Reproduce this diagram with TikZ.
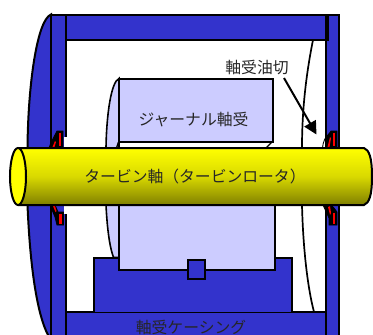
\documentclass[tikz,border=0pt]{standalone}
\usepackage{fontspec}
\newfontfamily\jpfont{Noto Sans CJK JP}
\usetikzlibrary{arrows.meta}
\definecolor{casing}{HTML}{3333CC}
\definecolor{bearing}{HTML}{CCCCFF}
\definecolor{shafttop}{HTML}{FFFF00}
\definecolor{shaftbot}{HTML}{7F7F00}
\tikzset{
  part/.style={draw=black,line width=2pt,line join=miter},
  blue part/.style={part,fill=casing},
  pale part/.style={part,fill=bearing},
  thin line/.style={draw=black,line width=1.7pt},
  seal/.style={fill=black,draw=black,line width=.8pt},
  sealred/.style={fill=red,draw=none},
  lab/.style={font=\jpfont\fontsize{15.8pt}{16pt}\selectfont,inner sep=0pt,text=black!85}
}
\begin{document}
\begin{tikzpicture}[x=1pt,y=-1pt]
\useasboundingbox (0,0) rectangle (373,335);
\fill[white] (0,0) rectangle (373,335);
% left bulge of the casing
\draw[blue part] (51,14.5) .. controls (37,20) and (28,85) .. (27.5,148) -- (27.5,205)
   .. controls (30,265) and (37,320) .. (51,340) -- cycle;
% left flange
\draw[blue part] (51,14.5) rectangle (65.5,340);
% top and bottom bars
\draw[blue part] (65.5,14.5) -- (328,14.5) -- (328,40) -- (65.5,40) -- cycle;
\draw[blue part] (65.5,312) -- (327,312) -- (327,340) -- (65.5,340) -- cycle;
% right flange
\draw[blue part] (328,14.5) -- (338.5,14.5) -- (338.5,340) -- (326,340) -- (326,40) -- (328,40) -- cycle;
\draw[part] (326,14.5) -- (326,40);
% oil thrower arc
\draw[thin line] (313,40) .. controls (306,75) and (302,110) .. (302,148);
\draw[thin line] (302,205) .. controls (303,245) and (307,285) .. (314,312);
% casing base
\draw[blue part] (93.5,312) -- (93.5,257.5) -- (292,257.5) -- (292,312);
% journal bearing, bulges
\draw[pale part,line width=1.6pt] (119,78.5) .. controls (111,82) and (106.5,115) .. (106,148) -- (106,205)
   .. controls (107,225) and (109,245) .. (113.5,257.5) -- (119,257.5) -- cycle;
% journal bearing, upper block
\draw[pale part] (119,78.5) rectangle (272.5,142);
\draw[part,fill=white,line width=1.4pt] (118.5,142) -- (116.5,148) (272,142) -- (266,148);
% journal bearing, lower block
\draw[pale part] (119,206) -- (119,270) -- (274.5,270) -- (274.5,206);
% key
\draw[blue part] (187.5,259.5) rectangle (204.5,278.5);
% clearance under the flange, next to the seals
\fill[white] (64,137) rectangle (67.5,148);
\fill[white] (64,205) rectangle (67.5,214);
% seals, left
\draw[seal] (49,148) .. controls (50.5,143) and (54,137) .. (57,131) -- (63,131) -- (63,148) -- cycle;
\fill[sealred] (52.5,147) -- (55,141) -- (56,142) -- (54.5,147) -- cycle;
\fill[sealred] (58.5,133) -- (61,133) -- (61,146) -- (58.5,146) -- cycle;
\draw[seal] (50,205) -- (55,217) -- (57,225) -- (63.5,225) -- (63.5,212) -- (58,212) -- (55,205) -- cycle;
\fill[sealred] (53,206) -- (55,206) -- (56.5,211) -- (55.5,212) -- cycle;
\fill[sealred] (59,214) -- (61.5,214) -- (61.5,223.5) -- (59,223.5) -- cycle;
% seals, right
\draw[seal] (326,148) -- (326,138) -- (331,131) -- (337,131) -- (337,148) -- cycle;
\draw[line width=.9pt] (322.5,148) .. controls (323,142) and (325,137) .. (329,134);
\fill[sealred] (327.5,147) -- (330,137) -- (331,138) -- (329.5,147) -- cycle;
\fill[sealred] (332.5,133) -- (335,133) -- (335,146) -- (332.5,146) -- cycle;
\draw[seal] (323,205) -- (329,218) -- (329,225) -- (337,225) -- (337,212) -- (334,208) -- (331,205) -- cycle;
\fill[sealred] (328,207) -- (330,206) -- (331,213) -- (330,215) -- cycle;
\fill[sealred] (332.5,213) -- (335,213) -- (335,223.5) -- (332.5,223.5) -- cycle;
% shaft
\shade[top color=shafttop,bottom color=shaftbot,middle color=yellow!85!black!100]
  (18,148) -- (364,148) .. controls (369,150) and (372,157) .. (372,176.5)
  .. controls (372,196) and (369,203) .. (364,205) -- (18,205) -- cycle;
\draw[part] (18,148) -- (364,148) .. controls (369,150) and (372,157) .. (372,176.5)
  .. controls (372,196) and (369,203) .. (364,205) -- (18,205);
\draw[part,fill=shafttop] (18,176.5) ellipse [x radius=8,y radius=28.5];
% labels
\node[lab] (shaft) at (195,176) {タービン軸（タービンロータ）};
\node[lab] (journal) at (193.5,120) {ジャーナル軸受};
\node[lab] (housing) at (191,327.5) {軸受ケーシング};
\node[lab] (oil) at (257,67.5) {軸受油切};
\coordinate (oiltip) at (316.5,134.5);
\draw[line width=2pt,-{Triangle[length=13pt,width=13pt]}] (284,78) -- (oiltip);
\end{tikzpicture}
\end{document}
